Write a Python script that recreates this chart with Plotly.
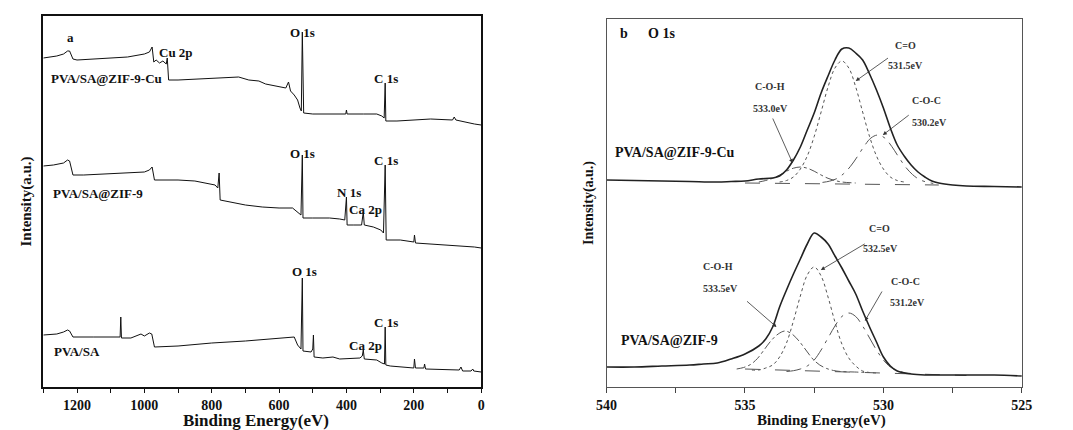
import plotly.graph_objects as go

# ---------------- Panel a : XPS survey spectra ----------------
survey_be_cu = [1300, 1280, 1260, 1240, 1228, 1222, 1212, 1200, 1150, 1100, 1050, 1000, 985, 977, 972, 965,
                955, 945, 935, 932, 928, 900, 850, 800, 750, 720, 690, 660, 640, 600, 580, 572, 566, 555,
                545, 538, 534, 531, 529, 527, 500, 450, 420, 402, 400, 398, 350, 310, 295, 288, 285, 283,
                250, 200, 150, 85, 80, 75, 40, 20, 0]
survey_int_cu = [329, 330, 331, 333, 336, 336, 328, 327, 328, 329, 330, 333, 335, 340, 325, 327,
                 324, 326, 323, 329, 307, 307, 308, 309, 310, 310, 307, 306, 303, 300, 299, 305, 296, 292,
                 287, 279, 276, 355, 274, 274, 273, 273, 273, 273, 277, 273, 273, 273, 271, 269, 304, 266,
                 266, 267, 268, 267, 270, 267, 264, 263, 262]

survey_be_zif = [1300, 1270, 1240, 1228, 1222, 1212, 1180, 1100, 1050, 1000, 985, 977, 970, 900, 850, 815,
                 790, 782, 778, 775, 740, 700, 650, 600, 560, 545, 535, 531, 529, 500, 450, 420, 405, 400,
                 398, 380, 355, 350, 347, 320, 298, 290, 285, 282, 260, 240, 200, 198, 195, 150, 100, 50,
                 20, 0]
survey_int_zif = [221, 222, 224, 227, 226, 212, 212, 213, 214, 215, 217, 220, 207, 207, 206, 204,
                  202, 199, 214, 187, 185, 182, 180, 179, 179, 175, 172, 232, 169, 169, 169, 168, 167, 190,
                  162, 162, 162, 175, 162, 160, 157, 154, 222, 147, 147, 147, 145, 152, 144, 143, 142, 141,
                  140, 139]

survey_be_pva = [1300, 1260, 1240, 1228, 1222, 1212, 1150, 1100, 1072, 1070, 1068, 1040, 1010, 1000, 985,
                 978, 970, 900, 800, 700, 600, 555, 545, 535, 531, 529, 505, 500, 498, 496, 470, 440, 420,
                 360, 353, 350, 347, 310, 295, 287, 285, 283, 270, 240, 200, 198, 195, 170, 168, 165, 100,
                 65, 60, 55, 30, 25, 22, 0]
survey_int_pva = [52, 53, 55, 57, 56, 50, 50, 50, 50, 70, 49, 49, 53, 51, 54,
                  53, 40, 41, 44, 46, 49, 50, 42, 38, 109, 36, 35, 38, 52, 30, 29, 30, 28,
                  29, 31, 37, 28, 27, 24, 23, 60, 22, 21, 20, 19, 28, 19, 19, 23, 18, 17,
                  17, 20, 16, 16, 18, 16, 15]

survey_ticks = [1200, 1000, 800, 600, 400, 200, 0]

# ---------------- Panel b : O 1s high resolution ----------------
o1s_ticks = [540, 535, 530, 525]

# PVA/SA@ZIF-9-Cu
cu_env_be = [540, 539, 538, 537, 536, 535.5, 535, 534.5, 534, 533.75, 533.5, 533.25, 533, 532.75, 532.5,
             532.25, 532, 531.75, 531.5, 531.25, 531, 530.75, 530.5, 530.25, 530, 529.75, 529.5, 529.25,
             529, 528.75, 528.5, 528.25, 528, 527.5, 527, 526, 525]
cu_env = [207, 206.5, 206, 205.5, 205, 205.5, 206, 208, 209, 211, 217, 227, 240, 257, 274,
          294, 311, 327, 338, 339, 334, 327, 313, 297, 279, 259, 242, 231,
          222, 215, 210, 206, 204, 202, 201, 200.5, 200]
cu_co_be = [533.75, 533.5, 533.25, 533, 532.75, 532.5, 532.25, 532, 531.75, 531.5, 531.25, 531, 530.75,
            530.5, 530.25, 530, 529.75, 529.5, 529.25]
cu_co = [205, 206.5, 210, 218, 231, 250.5, 275, 300, 319, 326, 319, 300, 275,
         250.5, 231, 218, 210, 206.5, 205]
cu_coh_be = [534.5, 534.25, 534, 533.75, 533.5, 533.25, 533, 532.75, 532.5, 532.25, 532, 531.75, 531.5, 531]
cu_coh = [205, 206.5, 208.7, 212, 215.8, 218.8, 220, 218.8, 215.8, 212, 208.7, 206.5, 205, 204]
cu_coc_be = [532.2, 531.95, 531.7, 531.45, 531.2, 530.95, 530.7, 530.45, 530.2, 529.95, 529.7, 529.45,
             529.2, 528.95, 528.7, 528.45, 528.2]
cu_coc = [204.6, 205.8, 208.2, 213, 220.3, 230, 240.6, 249, 252, 249, 240.6, 230,
          220, 212.5, 207.5, 205, 203.6]
cu_base_be = [535, 528]
cu_base = [204, 202]

# PVA/SA@ZIF-9
zif_env_be = [540, 539, 538, 537, 536.5, 536, 535.5, 535, 534.5, 534.25, 534, 533.75, 533.5, 533.25, 533,
              532.75, 532.5, 532.25, 532, 531.75, 531.5, 531.25, 531, 530.75, 530.5, 530.25, 530, 529.75,
              529.5, 529, 528.5, 528, 527, 526, 525]
zif_env = [20, 20, 21, 22, 23, 24, 28, 33, 41, 48, 60, 80, 97, 113, 128,
           143, 154, 150, 143, 131, 119, 106, 93, 76, 60, 45, 30, 21,
           16, 13, 12, 12, 12, 12, 11]
zif_co_be = [534.75, 534.5, 534.25, 534, 533.75, 533.5, 533.25, 533, 532.75, 532.5, 532.25, 532, 531.75,
             531.5, 531.25, 531, 530.75, 530.5, 530.25]
zif_co = [17, 17, 19, 22, 30, 44, 66, 91, 112, 120, 111, 90, 65,
          43, 29, 21, 16, 14.5, 14]
zif_coh_be = [535.3, 535.05, 534.8, 534.55, 534.3, 534.05, 533.8, 533.55, 533.3, 533.05, 532.8, 532.55,
              532.3, 532.05, 531.8, 531.55, 531.05, 530.6]
zif_coh = [18, 19.5, 22.5, 28.5, 37.5, 46.5, 53, 56, 53, 46, 37, 28,
           22, 18.5, 16.5, 15.5, 15, 14.5]
zif_coc_be = [533.5, 533.25, 533, 532.75, 532.5, 532.25, 532, 531.75, 531.5, 531.25, 531, 530.75, 530.5,
              530.25, 530, 529.75, 529.5, 529.25, 529]
zif_coc = [15.5, 16.3, 18, 21, 27, 37, 49, 61, 70.5, 74, 70.5, 61, 49,
           37, 27, 20, 16.5, 14.5, 13.5]
zif_base_be = [535, 527]
zif_base = [18, 11.5]

SERIF = "Liberation Serif"
fig = go.Figure()

for be, y in [(survey_be_cu, survey_int_cu), (survey_be_zif, survey_int_zif), (survey_be_pva, survey_int_pva)]:
    fig.add_trace(go.Scatter(x=be, y=y, mode="lines", line=dict(color="#111111", width=1),
                             xaxis="x", yaxis="y", showlegend=False, hoverinfo="skip"))

comp_style = dict(color="#555555", width=1)
for be, y, dash in [(cu_co_be, cu_co, "dot"), (cu_coh_be, cu_coh, "dashdot"), (cu_coc_be, cu_coc, "longdashdot"),
                    (cu_base_be, cu_base, "longdash"),
                    (zif_co_be, zif_co, "dot"), (zif_coh_be, zif_coh, "dashdot"), (zif_coc_be, zif_coc, "longdashdot"),
                    (zif_base_be, zif_base, "longdash")]:
    fig.add_trace(go.Scatter(x=be, y=y, mode="lines", line=dict(comp_style, dash=dash, shape="spline"),
                             xaxis="x2", yaxis="y2", showlegend=False, hoverinfo="skip"))
for be, y in [(cu_env_be, cu_env), (zif_env_be, zif_env)]:
    fig.add_trace(go.Scatter(x=be, y=y, mode="lines", line=dict(color="#222222", width=1.6, shape="spline"),
                             xaxis="x2", yaxis="y2", showlegend=False, hoverinfo="skip"))

ann = []
def txt(x, y, s, size=13, ref="", anchor="center", bold=True, color="#111111"):
    ann.append(dict(x=x, y=y, xref="x" + ref, yref="y" + ref, text=s, showarrow=False, xanchor=anchor,
                    yanchor="middle", font=dict(family=SERIF, size=size, color=color,
                                                weight="bold" if bold else "normal")))

# panel a labels
txt(1218, 350, "a", 13)
txt(962, 335, "Cu 2p", 13, anchor="left")
txt(1282, 309, "PVA/SA@ZIF-9-Cu", 13, anchor="left")
txt(530, 355, "O 1s", 13)
txt(283, 309, "C 1s", 13)
txt(1276, 194, "PVA/SA@ZIF-9", 13, anchor="left")
txt(530, 234, "O 1s", 13)
txt(283, 227, "C 1s", 13)
txt(393, 195, "N 1s", 13)
txt(344, 178, "Ca 2p", 13)
txt(1273, 36, "PVA/SA", 13, anchor="left")
txt(524, 116, "O 1s", 13)
txt(283, 65, "C 1s", 13)
txt(344, 42, "Ca 2p", 13)

# panel b labels
txt(539.58, 354, "b", 14, ref="2", anchor="left")
txt(538.59, 354, "O 1s", 14, ref="2", anchor="left")
txt(537.52, 235, "PVA/SA@ZIF-9-Cu", 14, ref="2")
txt(537.74, 47, "PVA/SA@ZIF-9", 14, ref="2")
small = [(529.21, 342, "C=O"), (529.21, 322, "531.5eV"), (534.09, 301, "C-O-H"), (534.09, 279, "533.0eV"),
         (528.43, 287, "C-O-C"), (528.33, 265, "530.2eV"),
         (530.13, 159, "C=O"), (530.1, 139, "532.5eV"), (535.97, 121, "C-O-H"), (535.9, 99, "533.5eV"),
         (529.21, 106, "C-O-C"), (529.14, 85, "531.2eV")]
for x, y, s in small:
    txt(x, y, s, 10, ref="2", color="#333333")

arrows = [((529.78, 330), (531.0, 306)), ((534.02, 270), (533.28, 224)), ((529.03, 273), (530.02, 252)),
          ((530.62, 144), (532.26, 117)), ((534.98, 87), (533.86, 60)), ((530.02, 97), (530.67, 66))]
for (tx, ty), (hx, hy) in arrows:
    ann.append(dict(x=hx, y=hy, ax=tx, ay=ty, xref="x2", yref="y2", axref="x2", ayref="y2", text="",
                    showarrow=True, arrowhead=2, arrowsize=1, arrowwidth=0.8, arrowcolor="#333333"))

# x-axis titles placed under the tick labels
ann.append(dict(x=250 / 1073, y=1 - 420.5 / 430, xref="paper", yref="paper", text="Binding Energy(eV)",
                showarrow=False, xanchor="center", yanchor="middle",
                font=dict(family=SERIF, size=17, color="#111111", weight="bold")))
ann.append(dict(x=827 / 1073, y=1 - 420 / 430, xref="paper", yref="paper", text="Binding Energy(eV)",
                showarrow=False, xanchor="center", yanchor="middle",
                font=dict(family=SERIF, size=15, color="#111111", weight="bold")))

axis_font = dict(family=SERIF, size=14, color="#111111", weight="bold")
fig.update_layout(
    width=1073, height=430, margin=dict(l=0, r=0, t=0, b=0),
    paper_bgcolor="white", plot_bgcolor="white",
    xaxis=dict(domain=[33 / 1073, 480 / 1073], range=[1300, 0], tickvals=survey_ticks, ticks="outside",
               ticklen=4, tickwidth=1.2, tickcolor="#111", minor=dict(dtick=100, tick0=0, ticks="outside", ticklen=4,
                                                                       tickcolor="#111"),
               showline=True, mirror=True, linecolor="#111", linewidth=1.5, showgrid=False, zeroline=False,
               tickfont=axis_font, anchor="y"),
    yaxis=dict(domain=[1 - 387 / 430, 1 - 16 / 430], range=[0, 371], showticklabels=False, ticks="",
               showline=True, mirror=True, linecolor="#111", linewidth=1.5, showgrid=False, zeroline=False,
               anchor="x",
               title=dict(text="Intensity(a.u.)", font=dict(family=SERIF, size=15, color="#111", weight="bold"),
                          standoff=6)),
    xaxis2=dict(domain=[608 / 1073, 1032 / 1073], range=[540, 525], tickvals=o1s_ticks, ticks="outside",
                ticklen=5, tickcolor="#444", minor=dict(dtick=2.5, tick0=525, ticks="outside", ticklen=5,
                                                         tickcolor="#444"),
                showline=True, mirror=True, linecolor="#555", linewidth=1.3, showgrid=False, zeroline=False,
                tickfont=dict(family=SERIF, size=14, color="#111", weight="bold"), anchor="y2"),
    yaxis2=dict(domain=[1 - 387 / 430, 1 - 19 / 430], range=[0, 368], showticklabels=False, ticks="",
                showline=True, mirror=True, linecolor="#555", linewidth=1.3, showgrid=False, zeroline=False,
                anchor="x2",
                title=dict(text="Intensity(a.u.)", font=dict(family=SERIF, size=14, color="#111", weight="bold"),
                           standoff=8)),
    annotations=ann,
)

fig.write_html("out.html")
